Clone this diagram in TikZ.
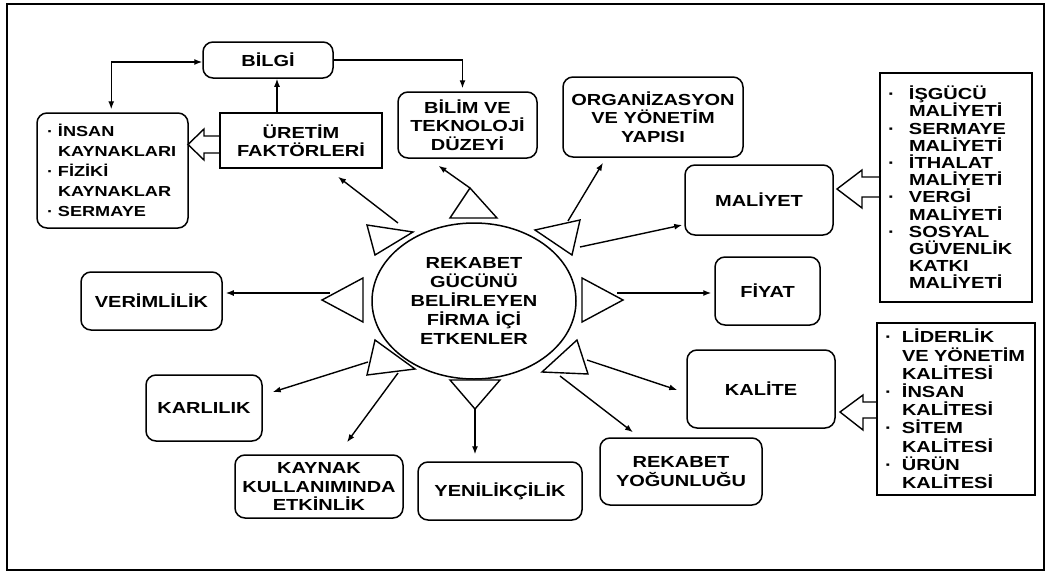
\documentclass[tikz,border=0pt]{standalone}
\usepackage{fontspec}
\newfontfamily\fb{Liberation Sans}[FakeStretch=1.25]
\usetikzlibrary{shapes.geometric,arrows.meta,calc}
\begin{document}
\begin{tikzpicture}[x=1pt,y=-1pt,
  every node/.style={inner sep=0pt},
  box/.style={draw,line width=1.5pt,rounded corners=10pt,align=center,
    font=\fb\bfseries\fontsize{16}{18.5}\selectfont},
  sqbox/.style={draw,line width=1.5pt,align=center,
    font=\fb\bfseries\fontsize{16}{18.5}\selectfont},
  lbox/.style={draw,line width=1.5pt,align=left,
    font=\fb\bfseries\fontsize{16}{17.2}\selectfont},
  arr/.style={line width=1.4pt,-{Latex[length=8pt,width=6pt]}},
  darr/.style={line width=1.4pt,{Latex[length=8pt,width=6pt]}-{Latex[length=8pt,width=6pt]}},
  tri/.style={line width=1.4pt,line join=miter},
  hol/.style={line width=1.4pt,line join=miter}]
\useasboundingbox (0,0) rectangle (1047,573);
\draw[line width=1.6pt] (7,4) rectangle (1044,570);

% central ellipse
\node[draw,ellipse,line width=1.5pt,minimum width=204pt,minimum height=156pt,align=center,
  font=\fb\bfseries\fontsize{16}{19}\selectfont] (ell) at (474,301)
  {REKABET\\GÜCÜNÜ\\BELİRLEYEN\\FİRMA İÇİ\\ETKENLER};

% boxes
\node[box,minimum width=130pt,minimum height=36pt] (bilgi) at (268,60) {BİLGİ};
\node[box,lbox,rounded corners=10pt,minimum width=151pt,minimum height=115pt,
  text width=131pt,font=\fb\bfseries\fontsize{14.5}{20}\selectfont] (lst) at (112.5,170.5)
  {\makebox[11pt][l]{·}İNSAN\\\hspace*{11pt}KAYNAKLARI\\\makebox[11pt][l]{·}FİZİKİ\\\hspace*{11pt}KAYNAKLAR\\\makebox[11pt][l]{·}SERMAYE};
\node[sqbox,minimum width=162pt,minimum height=55pt] (ur) at (301,140.5) {ÜRETİM\\FAKTÖRLERİ};
\node[box,minimum width=139pt,minimum height=66pt] (bilim) at (467.5,125) {BİLİM VE\\TEKNOLOJİ\\DÜZEYİ};
\node[box,minimum width=180pt,minimum height=80pt] (org) at (653,117) {ORGANİZASYON\\VE YÖNETİM\\YAPISI};
\node[box,minimum width=148pt,minimum height=70pt] (mal) at (759,200) {MALİYET};
\node[box,minimum width=105pt,minimum height=68pt] (fiyat) at (767.5,291) {FİYAT};
\node[lbox,minimum width=152pt,minimum height=229pt,text width=136pt] (mlst) at (956,187.5)
  {\makebox[21pt][l]{·}İŞGÜCÜ\\\hspace*{21pt}MALİYETİ\\\makebox[21pt][l]{·}SERMAYE\\\hspace*{21pt}MALİYETİ\\\makebox[21pt][l]{·}İTHALAT\\\hspace*{21pt}MALİYETİ\\\makebox[21pt][l]{·}VERGİ\\\hspace*{21pt}MALİYETİ\\\makebox[21pt][l]{·}SOSYAL\\\hspace*{21pt}GÜVENLİK\\\hspace*{21pt}KATKI\\\hspace*{21pt}MALİYETİ};
\node[box,minimum width=148pt,minimum height=78pt] (kal) at (761,389) {KALİTE};
\node[lbox,minimum width=158pt,minimum height=172pt,text width=142pt,
  font=\fb\bfseries\fontsize{16}{18.2}\selectfont] (klst) at (956,409)
  {\makebox[17pt][l]{·}LİDERLİK\\\hspace*{17pt}VE YÖNETİM\\\hspace*{17pt}KALİTESİ\\\makebox[17pt][l]{·}İNSAN\\\hspace*{17pt}KALİTESİ\\\makebox[17pt][l]{·}SİTEM\\\hspace*{17pt}KALİTESİ\\\makebox[17pt][l]{·}ÜRÜN\\\hspace*{17pt}KALİTESİ};
\node[box,minimum width=162pt,minimum height=67pt] (ry) at (681,471.5) {REKABET\\YOĞUNLUĞU};
\node[box,minimum width=164pt,minimum height=58pt] (yen) at (500,491) {YENİLİKÇİLİK};
\node[box,minimum width=168pt,minimum height=63pt] (kay) at (319,486.5) {KAYNAK\\KULLANIMINDA\\ETKİNLİK};
\node[box,minimum width=116pt,minimum height=66pt] (kar) at (204,408) {KARLILIK};
\node[box,minimum width=141pt,minimum height=58pt] (ver) at (151.5,301) {VERİMLİLİK};

% triangles around the ellipse
\draw[tri] (450,218) -- (497,218) -- (470,188) -- cycle;
\draw[tri] (367,225) -- (413,232) -- (375,255) -- cycle;
\draw[tri] (535,230) -- (580,220) -- (572,255) -- cycle;
\draw[tri] (582,278) -- (582,322) -- (623,300) -- cycle;
\draw[tri] (577,340) -- (588,374) -- (542,372) -- cycle;
\draw[tri] (450,380) -- (500,380) -- (475,409) -- cycle;
\draw[tri] (375,340) -- (367,375) -- (415,369) -- cycle;
\draw[tri] (322,300) -- (363,278) -- (363,322) -- cycle;

% start points of connectors
\coordinate (sTop) at (470,188);
\coordinate (sUL) at (398,223);
\coordinate (sUR1) at (568,221);
\coordinate (sUR2) at (580,247);
\coordinate (sR) at (617,293);
\coordinate (sLR1) at (587,360);
\coordinate (sLR2) at (560,376);
\coordinate (sB) at (475,409);
\coordinate (sLL1) at (398,373);
\coordinate (sLL2) at (368,362);
\coordinate (sL) at (330,293);

% connectors
\draw[arr] (sTop) -- ($(bilim.south)+(-29,7)$);
\draw[arr] (sUL) -- ($(ur.south)+(37,8)$);
\draw[arr] (sUR1) -- ($(org.south)+(-50,5)$);
\draw[arr] (sUR2) -- ($(mal.west)+(-2,25)$);
\draw[arr] (sR) -- ($(fiyat.west)+(-3,2)$);
\draw[arr] (sLR1) -- ($(kal.west)+(-9,1)$);
\draw[arr] (sLR2) -- ($(ry.north)+(-48,-5)$);
\draw[arr] (sB) -- ($(yen.north)+(-25,-7)$);
\draw[arr] (sLL1) -- ($(kay.north)+(28,-12)$);
\draw[arr] (sLL2) -- ($(kar.east)+(10,-16)$);
\draw[arr] (sL) -- ($(ver.east)+(3,-8)$);

% BILGI links
\draw[darr] ($(lst.north west)+(75,-3)$) |- ($(bilgi.west)+(0,2)$);
\draw[arr] ([xshift=-24pt]ur.north) -- ([xshift=-24pt]ur.north |- bilgi.south);
\draw[arr] (bilgi.east) -| ([xshift=-5pt,yshift=3pt]bilim.north);

% hollow arrows
\draw[hol] (220,136) -- (204,136) -- (204,129) -- (188,144.5) -- (204,160) -- (204,153) -- (220,153);
\draw[hol] (880,177) -- (862,177) -- (862,170) -- (837,189) -- (862,208) -- (862,197) -- (880,197);
\draw[hol] (877,402) -- (863,402) -- (863,395) -- (840,412) -- (863,430) -- (863,418) -- (877,418);
\end{tikzpicture}
\end{document}
